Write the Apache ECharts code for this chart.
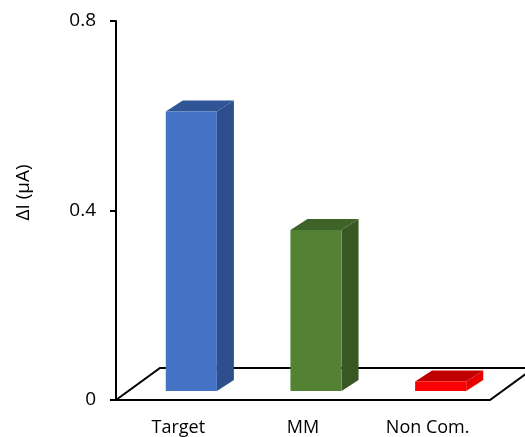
<!DOCTYPE html>
<html>
<head>
<meta charset="utf-8">
<script src="https://cdn.jsdelivr.net/npm/echarts@6/dist/echarts.min.js"></script>
<style>
  html, body { margin: 0; padding: 0; background: #fff; }
  #chart { width: 525px; height: 437px; }
</style>
</head>
<body>
<div id="chart"></div>
<script>
// Measured current change per probe
const categories = ['Target', 'MM', 'Non Com.'];
const values = [0.59, 0.34, 0.02];
const yTicks = [0, 0.4, 0.8];

// Face shades for the pseudo-3D columns
const frontColors = ['#4472C4', '#548235', '#FF0000'];
const sideColors = ['#2C4E8A', '#385723', '#E80000'];
const topColors = ['#2F5597', '#3E6328', '#C00000'];

const FONT = '"Open Sans", "DejaVu Sans", sans-serif';
// Floor depth (screen offset of the back edge) and column placement in it
const FLOOR_DX = 44, FLOOR_DY = -32;
const BAR_DX = 17, BAR_DY = -11;
const BAR_SHIFT_X = 13, BAR_SHIFT_Y = -9;

const chart = echarts.init(document.getElementById('chart'), null, { renderer: 'canvas' });

function renderFloor(params) {
  const cs = params.coordSys;
  const x0 = cs.x, x1 = cs.x + cs.width, y0 = cs.y + cs.height;
  return {
    type: 'polygon',
    shape: {
      points: [
        [x0, y0], [x1, y0],
        [x1 + FLOOR_DX, y0 + FLOOR_DY], [x0 + FLOOR_DX, y0 + FLOOR_DY]
      ]
    },
    style: { fill: '#ffffff', stroke: '#000000', lineWidth: 2 },
    silent: true
  };
}

function renderBar(params, api) {
  const idx = api.value(0);
  const v = api.value(1);
  const base = api.coord([idx, 0]);
  const band = api.size([1, 0])[0];
  const h = api.size([0, v])[1];
  const w = band * 0.41;
  const xl = base[0] - w / 2 + BAR_SHIFT_X;
  const xr = xl + w;
  const yb = base[1] + BAR_SHIFT_Y;
  const yt = yb - h;
  const i = params.dataIndex;
  return {
    type: 'group',
    children: [
      {
        type: 'polygon',
        shape: { points: [[xr, yb], [xr + BAR_DX, yb + BAR_DY], [xr + BAR_DX, yt + BAR_DY], [xr, yt]] },
        style: { fill: sideColors[i] }
      },
      {
        type: 'polygon',
        shape: { points: [[xl, yt], [xr, yt], [xr + BAR_DX, yt + BAR_DY], [xl + BAR_DX, yt + BAR_DY]] },
        style: { fill: topColors[i] }
      },
      {
        type: 'rect',
        shape: { x: xl, y: yt, width: w, height: h },
        style: { fill: frontColors[i] }
      }
    ]
  };
}

chart.setOption({
  animation: false,
  backgroundColor: '#ffffff',
  grid: { left: 116, right: 35, top: 21, bottom: 36, containLabel: false },
  xAxis: {
    type: 'category',
    data: categories,
    axisLine: { show: false },
    axisTick: { show: false },
    splitLine: { show: false },
    axisLabel: { margin: 19, fontSize: 18, color: '#000', fontFamily: FONT }
  },
  yAxis: {
    type: 'value',
    min: yTicks[0],
    max: yTicks[yTicks.length - 1],
    interval: yTicks[1] - yTicks[0],
    name: 'ΔI (µA)',
    nameLocation: 'middle',
    nameGap: 83,
    nameTextStyle: { fontSize: 19, color: '#000', fontFamily: FONT, padding: [0, 0, 0, 36] },
    axisLine: { show: true, lineStyle: { color: '#000', width: 2 } },
    axisTick: { show: true, length: 6, lineStyle: { color: '#000', width: 2 } },
    splitLine: { show: false },
    axisLabel: { margin: 20, fontSize: 19, color: '#000', fontFamily: FONT }
  },
  series: [
    {
      type: 'custom',
      renderItem: renderFloor,
      data: [[0, 0]],
      z: 1,
      silent: true,
      clip: false
    },
    {
      type: 'custom',
      renderItem: renderBar,
      data: values.map((v, i) => [i, v]),
      z: 2,
      clip: false
    }
  ]
});
</script>
</body>
</html>
